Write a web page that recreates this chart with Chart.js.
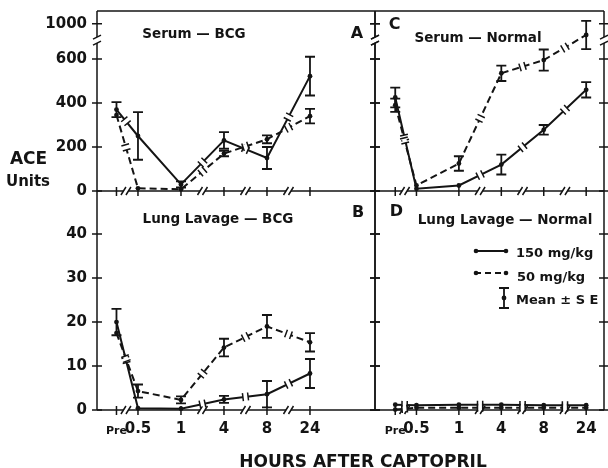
<!DOCTYPE html>
<html><head><meta charset="utf-8">
<script src="https://cdn.jsdelivr.net/npm/chart.js@4.4.1/dist/chart.umd.min.js"></script>
<style>
html,body{margin:0;padding:0;background:#fff;width:608px;height:468px;overflow:hidden;position:relative;}
canvas{position:absolute;}
.t{position:absolute;font-family:'DejaVu Sans',sans-serif;font-weight:bold;color:#141414;white-space:nowrap;line-height:1;}
</style></head><body>
<canvas id="cA" width="380" height="200" style="left:0px;top:0px"></canvas>
<canvas id="cC" width="243" height="200" style="left:365px;top:0px"></canvas>
<canvas id="cB" width="380" height="287" style="left:0px;top:181px"></canvas>
<canvas id="cD" width="243" height="287" style="left:365px;top:181px"></canvas>
<script>
// ---------- data ----------
const categories = ['Pre','0.5','1','4','8','24'];
const catPos = [0.5,1,2,3,4,5];
const xBreaks = [0.72,2.5,3.5,4.5];
const serumTickValues = [0,200,400,600,760];
const serumTickLabels = ['0','200','400','600','1000'];
const serumBreak = 686;
const lavageTickValues = [0,10,20,30,40];
const lavageTickLabels = ['0','10','20','30','40'];

const serumBCG_150    = [370,250,30,230,150,522];
const serumBCG_150_se = [34,108,14,38,50,88];
const serumBCG_50     = [345,12,8,170,235,340];
const serumBCG_50_se  = [0,0,0,12,18,33];

const serumNormal_150    = [425,10,25,120,278,460];
const serumNormal_150_se = [45,0,0,45,22,35];
const serumNormal_50     = [390,25,125,535,595,709];
const serumNormal_50_se  = [30,0,33,35,48,64];

const lavageBCG_150    = [20,0.4,0.3,2.4,3.6,8.3];
const lavageBCG_150_se = [3,0,0,0.8,3,3.3];
const lavageBCG_50     = [17.5,4.3,2.3,14.2,19,15.4];
const lavageBCG_50_se  = [0,1.5,0.8,2,2.6,2.1];

const lavageNormal_150    = [1.2,1.1,1.2,1.2,1.1,1.1];
const lavageNormal_150_se = [0,0,0,0,0,0];
const lavageNormal_50     = [0.1,0.5,0.5,0.5,0.5,0.5];
const lavageNormal_50_se  = [0,0,0,0,0,0];

// ---------- drawing ----------
const INK = '#141414';
const FONT = "'DejaVu Sans', sans-serif";

function panelPlugin(cfg){
  return {
    id: 'panel_' + cfg.name,
    beforeDatasetsDraw(chart){
      const {ctx, chartArea:a, scales:{x, y}} = chart;
      const L=a.left, R=a.right, T=a.top, B=a.bottom;
      ctx.save();
      ctx.strokeStyle = INK; ctx.lineWidth = 1.5; ctx.lineCap = 'butt';
      const yb = cfg.yBreak != null ? y.getPixelForValue(cfg.yBreak) : null;
      for (const X of [L, R]) {
        ctx.beginPath();
        if (yb != null) { ctx.moveTo(X,T); ctx.lineTo(X,yb-3); ctx.moveTo(X,yb+3); ctx.lineTo(X,B); }
        else { ctx.moveTo(X,T); ctx.lineTo(X,B); }
        ctx.stroke();
        if (yb != null) {
          ctx.beginPath();
          for (const d of [-3,3]) { ctx.moveTo(X-4, yb+d+2); ctx.lineTo(X+4, yb+d-2); }
          ctx.stroke();
        }
      }
      if (cfg.top) { ctx.beginPath(); ctx.moveTo(L,T); ctx.lineTo(R,T); ctx.stroke(); }
      const bx = xBreaks.map(v => x.getPixelForValue(v));
      let s = L;
      ctx.beginPath();
      for (const p of bx) { ctx.moveTo(s,B); ctx.lineTo(p-2.5,B); s = p+2.5; }
      ctx.moveTo(s,B); ctx.lineTo(R,B); ctx.stroke();
      ctx.beginPath();
      for (const p of bx) for (const d of [-2.5,2.5]) { ctx.moveTo(p+d-2.5,B+4); ctx.lineTo(p+d+2.5,B-4); }
      ctx.stroke();
      ctx.beginPath();
      for (const v of cfg.yTicks) {
        const py = y.getPixelForValue(v);
        for (const X of [L,R]) { ctx.moveTo(X-5,py); ctx.lineTo(X+5,py); }
      }
      for (const v of catPos) { const px = x.getPixelForValue(v); ctx.moveTo(px,B-4); ctx.lineTo(px,B+5); }
      ctx.stroke();
      ctx.restore();
    },
    afterDatasetsDraw(chart){
      const {ctx, scales:{x, y}} = chart;
      ctx.save();
      const bx = xBreaks.map(v => x.getPixelForValue(v));
      chart.data.datasets.forEach((ds, di) => {
        const pts = chart.getDatasetMeta(di).data;
        for (let i=0;i<pts.length-1;i++){
          const p0=pts[i], p1=pts[i+1];
          for (const b of bx){
            if (b>p0.x && b<p1.x){
              const t=(b-p0.x)/(p1.x-p0.x);
              const P={x:b, y:p0.y+t*(p1.y-p0.y)};
              const dx=p1.x-p0.x, dy=p1.y-p0.y, len=Math.hypot(dx,dy);
              const ux=dx/len, uy=dy/len, nx=-uy, ny=ux;
              ctx.strokeStyle='#fff'; ctx.lineWidth=4.5;
              ctx.beginPath(); ctx.moveTo(P.x-2.6*ux,P.y-2.6*uy); ctx.lineTo(P.x+2.6*ux,P.y+2.6*uy); ctx.stroke();
              ctx.strokeStyle=INK; ctx.lineWidth=1.5;
              ctx.beginPath();
              for (const g of [-2.6,2.6]) {
                const cx=P.x+g*ux, cy=P.y+g*uy;
                ctx.moveTo(cx-4*nx, cy-4*ny); ctx.lineTo(cx+4*nx, cy+4*ny);
              }
              ctx.stroke();
            }
          }
        }
        const vals = cfg.series[di], se = cfg.errors[di];
        ctx.strokeStyle=INK; ctx.lineWidth=1.8;
        ctx.beginPath();
        vals.forEach((v,j) => {
          if (!se[j]) return;
          const px=x.getPixelForValue(catPos[j]);
          const t=y.getPixelForValue(v+se[j]), bo=y.getPixelForValue(v-se[j]);
          ctx.moveTo(px,t); ctx.lineTo(px,bo);
          ctx.moveTo(px-5,t); ctx.lineTo(px+5,t);
          ctx.moveTo(px-5,bo); ctx.lineTo(px+5,bo);
        });
        ctx.stroke();
      });
      if (cfg.legend) cfg.legend(ctx, chart);
      ctx.restore();
    }
  };
}

function dataset(label, vals, dashed){
  return {
    label, data: vals.map((v,i)=>({x:catPos[i], y:v})),
    borderColor: INK, backgroundColor: INK, pointBackgroundColor: INK,
    borderWidth: 2, borderDash: dashed ? [7,4] : [], pointRadius: 2.4, pointBorderWidth: 0,
    tension: 0, clip: false, showLine: true
  };
}

function makePanel(id, cfg){
  const yScale = {
    type:'linear', min:0, max:cfg.ymax, display: cfg.showY,
    afterBuildTicks: s => { s.ticks = cfg.yTicks.map(v=>({value:v})); },
    ticks:{ autoSkip:false, padding:10, color:INK, font:{family:FONT, weight:'bold', size:15},
            callback:(v,i)=>cfg.yLabels[i] },
    grid:{display:false, drawTicks:false}, border:{display:false},
    afterFit: s => { s.paddingTop = 0; s.paddingBottom = 0; if (cfg.showY) s.width = 97; }
  };
  const xScale = {
    type:'linear', min:cfg.xmin, max:cfg.xmax, display: cfg.showX,
    afterBuildTicks: s => { s.ticks = catPos.map(v=>({value:v})); },
    ticks:{ autoSkip:false, maxRotation:0, padding:10, color:INK,
            font: c => (c.index===0 ? {family:FONT, weight:'bold', size:11, lineHeight:1.95}
                                    : {family:FONT, weight:'bold', size:15, lineHeight:1.2}),
            callback:(v,i)=>categories[i] },
    grid:{display:false, drawTicks:false}, border:{display:false},
    afterFit: s => { s.paddingLeft = 0; s.paddingRight = 0; if (cfg.showX) s.height = 58; }
  };
  return new Chart(document.getElementById(id), {
    type:'scatter',
    data:{ datasets:[ dataset('150 mg/kg', cfg.series[0], false), dataset('50 mg/kg', cfg.series[1], true) ] },
    options:{
      responsive:false, animation:false, events:[],
      layout:{ padding: cfg.padding },
      plugins:{ legend:{display:false}, tooltip:{enabled:false} },
      scales:{ x:xScale, y:yScale }
    },
    plugins:[panelPlugin(cfg)]
  });
}

const SERUM_MAX = 818, LAVAGE_MAX = 49.8;
const LEFT_X = [0.047, 6.512], RIGHT_X = [0.023, 5.42];

makePanel('cA', { name:'A', series:[serumBCG_150, serumBCG_50], errors:[serumBCG_150_se, serumBCG_50_se],
  ymax:SERUM_MAX, yTicks:serumTickValues, yLabels:serumTickLabels, yBreak:serumBreak, top:true,
  showY:true, showX:false, xmin:LEFT_X[0], xmax:LEFT_X[1], padding:{top:11,right:5,bottom:9,left:0} });
makePanel('cC', { name:'C', series:[serumNormal_150, serumNormal_50], errors:[serumNormal_150_se, serumNormal_50_se],
  ymax:SERUM_MAX, yTicks:serumTickValues, yLabels:serumTickLabels, yBreak:serumBreak, top:true,
  showY:false, showX:false, xmin:RIGHT_X[0], xmax:RIGHT_X[1], padding:{top:11,right:1,bottom:9,left:10} });
makePanel('cB', { name:'B', series:[lavageBCG_150, lavageBCG_50], errors:[lavageBCG_150_se, lavageBCG_50_se],
  ymax:LAVAGE_MAX, yTicks:lavageTickValues, yLabels:lavageTickLabels, yBreak:null, top:false,
  showY:true, showX:true, xmin:LEFT_X[0], xmax:LEFT_X[1], padding:{top:10,right:5,bottom:0,left:0} });
makePanel('cD', { name:'D', series:[lavageNormal_150, lavageNormal_50], errors:[lavageNormal_150_se, lavageNormal_50_se],
  ymax:LAVAGE_MAX, yTicks:lavageTickValues, yLabels:lavageTickLabels, yBreak:null, top:false,
  showY:false, showX:true, xmin:RIGHT_X[0], xmax:RIGHT_X[1], padding:{top:10,right:1,bottom:0,left:10},
  legend:(ctx)=>{
    const ox=365, oy=181;
    ctx.strokeStyle=INK; ctx.fillStyle=INK; ctx.lineWidth=2;
    const rows=[[251,[]],[273,[6,4]]];
    for (const [yy,dash] of rows){
      ctx.setLineDash(dash);
      ctx.beginPath(); ctx.moveTo(475-ox,yy-oy); ctx.lineTo(507-ox,yy-oy); ctx.stroke();
      ctx.setLineDash([]);
      for (const xx of [476,506]) { ctx.beginPath(); ctx.arc(xx-ox,yy-oy,2.3,0,Math.PI*2); ctx.fill(); }
    }
    ctx.lineWidth=1.8;
    ctx.beginPath();
    ctx.moveTo(504-ox,288-oy); ctx.lineTo(504-ox,308-oy);
    ctx.moveTo(499-ox,288-oy); ctx.lineTo(509-ox,288-oy);
    ctx.moveTo(499-ox,308-oy); ctx.lineTo(509-ox,308-oy);
    ctx.stroke();
    ctx.beginPath(); ctx.arc(504-ox,298-oy,2.4,0,Math.PI*2); ctx.fill();
  }
});

// ---------- text ----------
function txt(s, x, cy, size, align){
  const d=document.createElement('div');
  d.className='t'; d.textContent=s;
  d.style.fontSize=size+'px';
  d.style.top=(cy-0.5*size)+'px';
  d.style.left=x+'px';
  if (align!=='left') d.style.transform='translateX(-50%)';
  document.body.appendChild(d);
}
txt('Serum \u2014 BCG',194,33.5,13.5);
txt('A',357,32.5,16);
txt('C',394.5,24,16);
txt('Serum \u2014 Normal',478,38,13.5);
txt('B',358,212,16);
txt('D',396.5,211,16);
txt('Lung Lavage \u2014 BCG',218,219,13.5);
txt('Lung Lavage \u2014 Normal',505,220,13.5);
txt('ACE',28.5,158.5,17);
txt('Units',28,181.5,15);
txt('HOURS AFTER CAPTOPRIL',363,461,17);
txt('150 mg/kg',516,252,13,'left');
txt('50 mg/kg',517,276,13,'left');
txt('Mean \u00b1 S E',516,299,13,'left');
</script>
</body></html>
